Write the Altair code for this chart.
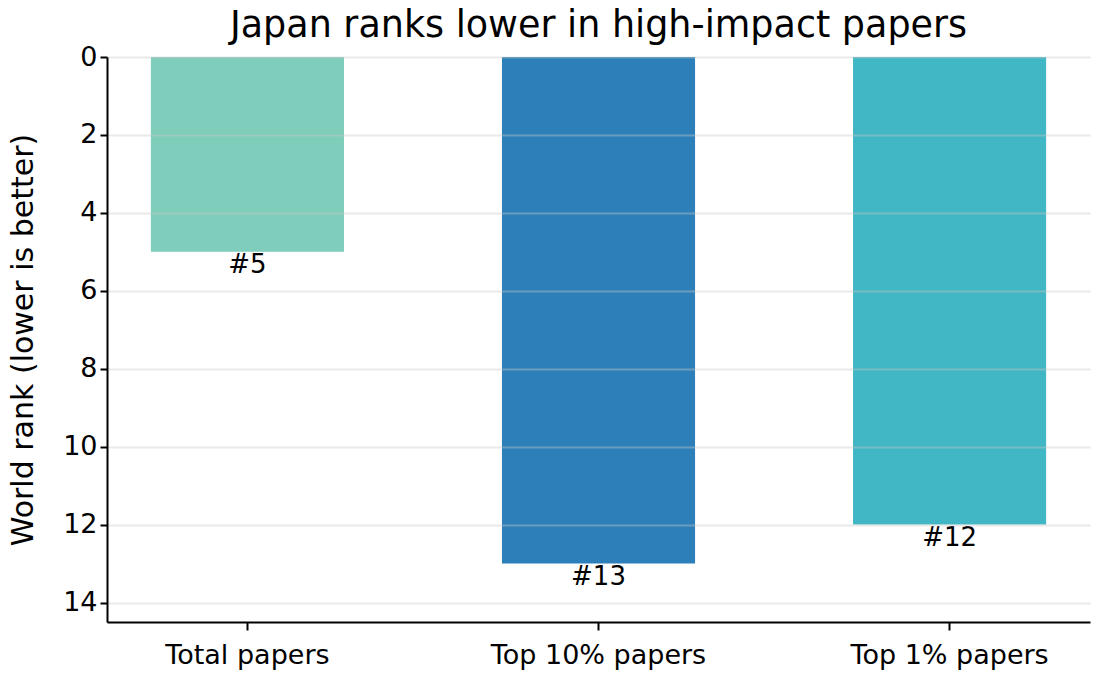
import altair as alt
import pandas as pd

categories = ["Total papers", "Top 10% papers", "Top 1% papers"]
ranks = [5, 13, 12]
labels = ["#5", "#13", "#12"]
colors = ["#7fcdbb", "#2c7fb8", "#41b6c4"]

df = pd.DataFrame({"category": categories, "rank": ranks, "label": labels})

FONT = "DejaVu Sans"

x_enc = alt.X(
    "category:N",
    sort=categories,
    scale=alt.Scale(paddingInner=0.45, paddingOuter=0.125),
    axis=alt.Axis(
        title=None, labelAngle=0, labelFontSize=27, labelFont=FONT, labelColor="black",
        labelLimit=1000,
        domainColor="black", domainWidth=2, tickColor="black", tickWidth=2, tickSize=8,
        labelPadding=12, grid=False,
    ),
)

bars = alt.Chart(df).mark_bar().encode(
    x=x_enc,
    y=alt.Y(
        "rank:Q",
        scale=alt.Scale(domain=[0, 14.5], reverse=True, nice=False, zero=True),
        axis=alt.Axis(
            title="World rank (lower is better)", titleFontSize=30, titleFont=FONT,
            titleFontWeight="normal", titleColor="black", titlePadding=24,
            values=[0, 2, 4, 6, 8, 10, 12, 14], labelFontSize=27, labelFont=FONT,
            labelColor="black", domainColor="black", domainWidth=2, tickColor="black",
            tickWidth=2, tickSize=7, labelPadding=3, grid=True, gridColor="#c8c8c8",
            gridOpacity=0.4, gridWidth=2, zindex=1,
        ),
    ),
    color=alt.Color("category:N", sort=categories,
                    scale=alt.Scale(domain=categories, range=colors), legend=None),
)

text = alt.Chart(df).mark_text(
    baseline="alphabetic", dy=21, fontSize=26, font=FONT, color="black"
).encode(
    x=alt.X("category:N", sort=categories),
    y=alt.Y("rank:Q"),
    text="label:N",
)

chart = (
    alt.layer(bars, text)
    .properties(
        width=983,
        height=565,
        title=alt.TitleParams(
            "Japan ranks lower in high-impact papers", fontSize=36.5, font=FONT,
            fontWeight="normal", color="black", baseline="alphabetic", offset=20,
            anchor="middle", frame="group", dy=50,
        ),
        autosize=alt.AutoSizeParams(type="none"),
        padding={"left": 99, "top": 49, "right": 2, "bottom": 58},
    )
    .configure_view(stroke=None)
)

chart.save("out.html", embed_options={"renderer": "svg", "actions": False})
